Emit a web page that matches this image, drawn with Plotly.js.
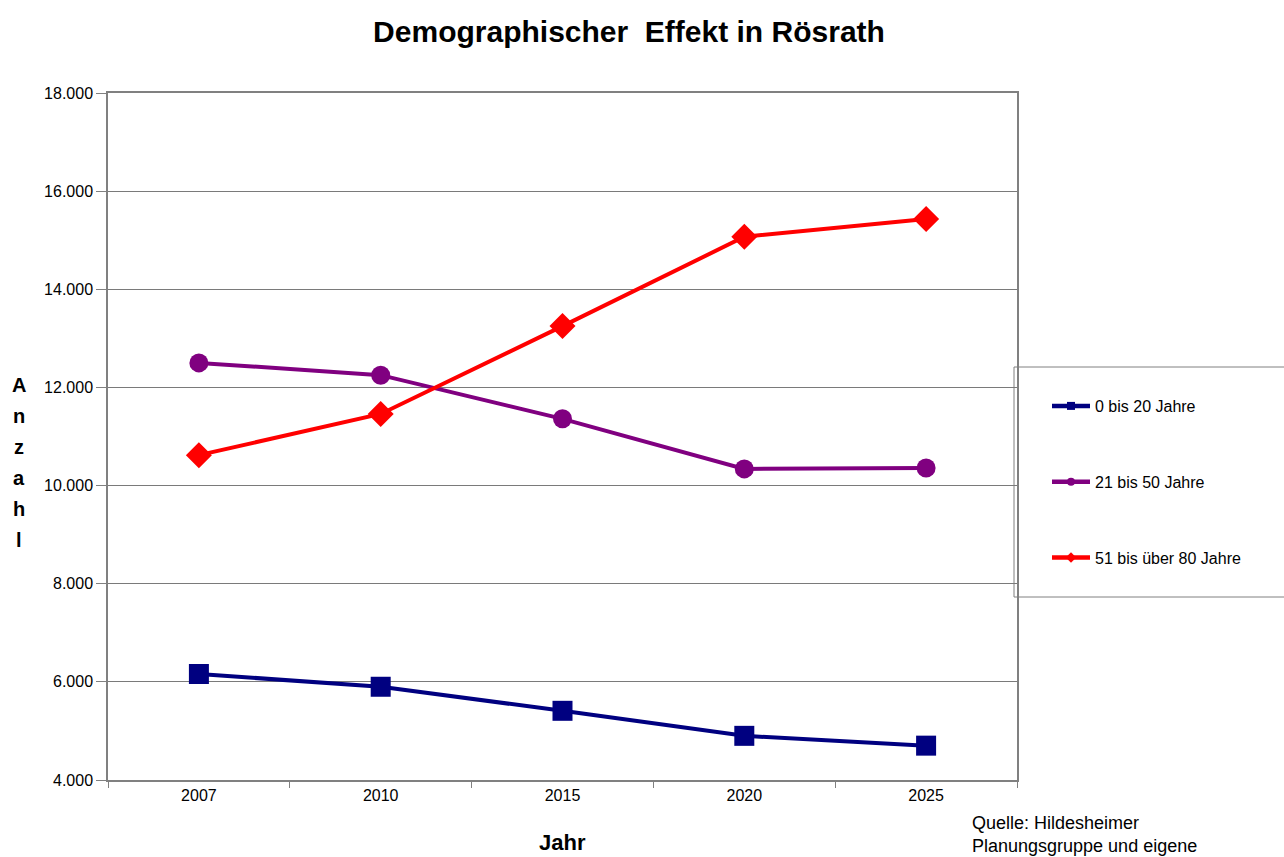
<!DOCTYPE html>
<html>
<head>
<meta charset="utf-8">
<script src="https://cdn.plot.ly/plotly-3.0.1.min.js"></script>
<style>html,body{margin:0;padding:0;background:#fff;}#chart{width:1284px;height:857px;}</style>
</head>
<body>
<div id="chart"></div>
<script>
var years = ["2007", "2010", "2015", "2020", "2025"];
var seriesNames = ["0 bis 20 Jahre", "21 bis 50 Jahre", "51 bis über 80 Jahre"];
var age0to20 = [6160, 5900, 5410, 4900, 4700];
var age21to50 = [12500, 12250, 11360, 10340, 10360];
var age51to80 = [10620, 11460, 13250, 15070, 15430];
var yTitleLetters = ["A", "n", "z", "a", "h", "l"];

var font = "Liberation Sans, Arial, sans-serif";
var colors = ["#000080", "#800080", "#ff0000"];
var symbols = ["square", "circle", "diamond"];
var sizes = [20, 19, 20];
var values = [age0to20, age21to50, age51to80];

var data = [];
for (var i = 0; i < 3; i++) {
  data.push({
    type: "scatter", mode: "lines+markers", name: seriesNames[i], x: years, y: values[i],
    showlegend: false,
    line: {color: colors[i], width: 4},
    marker: {color: colors[i], symbol: symbols[i], size: sizes[i]}
  });
}
// legend entries (small markers as in the reference legend)
for (var j = 0; j < 3; j++) {
  data.push({
    type: "scatter", mode: "lines+markers", name: seriesNames[j], x: [null], y: [null],
    legendgroup: "g" + j, showlegend: true, hoverinfo: "skip",
    line: {color: colors[j], width: 4.5},
    marker: {color: colors[j], symbol: symbols[j], size: 8}
  });
}

function px(xp) { return (xp - 108) / 909; }
function py(yp) { return (780 - yp) / 687; }

var annotations = [
  {text: "<b>Jahr</b>", xref: "paper", yref: "paper", x: 0.5, y: py(842),
   xanchor: "center", yanchor: "middle", showarrow: false, font: {family: font, size: 22, color: "#000"}},
  {text: "Quelle: Hildesheimer<br>Planungsgruppe und eigene", xref: "paper", yref: "paper",
   x: px(970), y: py(811), xanchor: "left", yanchor: "top", showarrow: false, align: "left",
   font: {family: font, size: 18, color: "#000"}}
];
for (var k = 0; k < yTitleLetters.length; k++) {
  annotations.push({text: "<b>" + yTitleLetters[k] + "</b>", xref: "paper", yref: "paper",
    x: px(19), y: py(385 + 31 * k), xanchor: "center", yanchor: "middle", showarrow: false,
    font: {family: font, size: 20, color: "#000"}});
}

var layout = {
  width: 1284, height: 857,
  margin: {l: 108, r: 267, t: 93, b: 77},
  paper_bgcolor: "#fff", plot_bgcolor: "#fff",
  separators: ",.",
  font: {family: font, size: 16, color: "#000"},
  title: {text: "<b>Demographischer  Effekt in Rösrath</b>", font: {family: font, size: 30, color: "#000"},
          xref: "container", x: 629 / 1284, xanchor: "center", yref: "container", y: 1 - 31 / 857, yanchor: "middle"},
  xaxis: {type: "category", range: [-0.5, 4.5], tickson: "boundaries", ticks: "outside", ticklen: 6,
          tickcolor: "#808080", showgrid: false, showline: true, linecolor: "#808080", linewidth: 1.5,
          mirror: true, zeroline: false, tickfont: {family: font, size: 16, color: "#000"}},
  yaxis: {range: [4000, 18000], dtick: 2000, tickformat: ",d", ticks: "outside", ticklen: 10,
          tickcolor: "#808080", showgrid: true, gridcolor: "#7a7a7a", gridwidth: 1,
          showline: true, linecolor: "#808080", linewidth: 1.5, mirror: true, zeroline: false,
          tickfont: {family: font, size: 16, color: "#000"}},
  legend: {x: px(1047), xanchor: "left", y: py(389), yanchor: "top", borderwidth: 0, itemwidth: 38,
           bgcolor: "rgba(0,0,0,0)", tracegroupgap: 52, font: {family: font, size: 16, color: "#000"}},
  shapes: [
    {type: "rect", xref: "paper", yref: "paper", x0: px(1014), x1: px(1300), y0: py(367), y1: py(597),
     line: {color: "#808080", width: 1}, fillcolor: "#fff", layer: "below"}
  ],
  annotations: annotations
};

Plotly.newPlot("chart", data, layout, {displayModeBar: false, responsive: false});
</script>
</body>
</html>
